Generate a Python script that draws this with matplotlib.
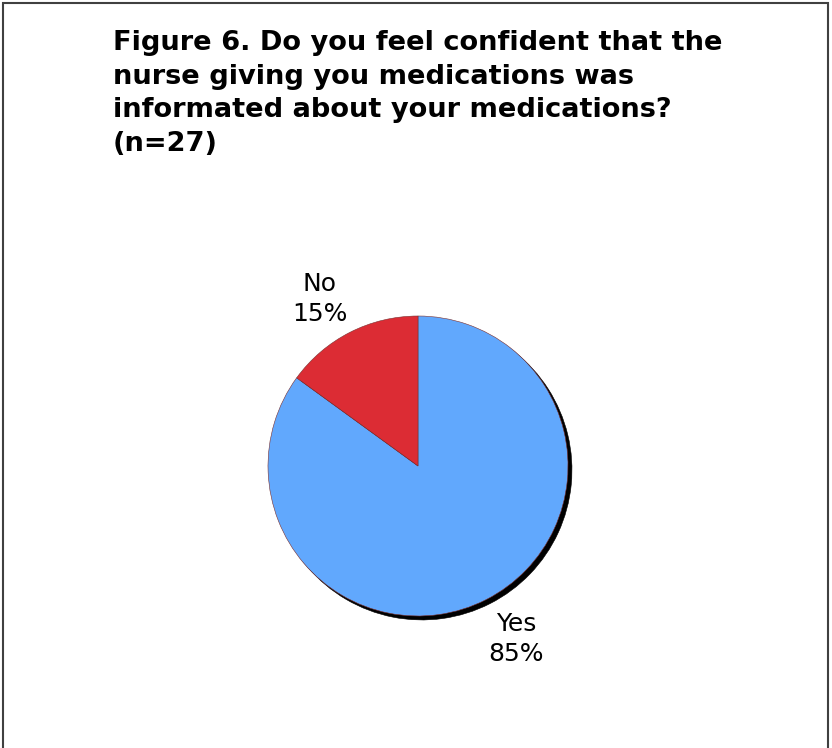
import numpy as np
import matplotlib.pyplot as plt
import matplotlib.patches as patches

# Survey answers
categories = ['Yes', 'No']
percentages = [85, 15]
colors = ['#61a8fd', '#dc2c34']

title = ("Figure 6. Do you feel confident that the\n"
         "nurse giving you medications was\n"
         "informated about your medications?\n"
         "(n=27)")

W, H = 832, 748
fig = plt.figure(figsize=(W / 100, H / 100), dpi=100)
fig.patch.set_facecolor('white')

# Outer frame (bottom edge runs off the canvas)
frame = patches.Rectangle((3 / W, -0.05), 825 / W, 1.05 - 2.5 / H,
                          transform=fig.transFigure, fill=False,
                          edgecolor='#404040', linewidth=1.5)
fig.patches.append(frame)

# baseline alignment of a multi-line text follows its last line
fig.text(113 / W, 1 - 151 / H, title, ha='left', va='baseline',
         fontsize=19.6, fontweight='bold', family='DejaVu Sans',
         linespacing=1.38)

# Pie axes: 150 px per data unit, centre at (418, 466) px
cx, cy, r = 418, 466, 150
ax = fig.add_axes([(cx - 2 * r) / W, (H - cy - 2 * r) / H, 4 * r / W, 4 * r / H])

labels = [f"{c}\n{p}%" for c, p in zip(categories, percentages)]
wedges, texts = ax.pie(percentages, labels=labels, colors=colors,
                       startangle=90, counterclock=False,
                       shadow={'ox': 0.019, 'oy': -0.019, 'shade': 1.0, 'alpha': 1.0},
                       wedgeprops=dict(linewidth=0.4, edgecolor='#7a3030'),
                       textprops=dict(fontsize=18, ha='center', va='center',
                                      linespacing=1.3))

# labels sit a little counter-clockwise of each wedge's middle
for w, t in zip(wedges, texts):
    ang = np.deg2rad((w.theta1 + w.theta2) / 2 + 3)
    t.set_position((1.31 * np.cos(ang), 1.31 * np.sin(ang) - 0.02))

ax.set_xlim(-2, 2)
ax.set_ylim(-2, 2)
ax.set_aspect('equal')
ax.axis('off')

fig.savefig('out.png', dpi=100, facecolor='white')
